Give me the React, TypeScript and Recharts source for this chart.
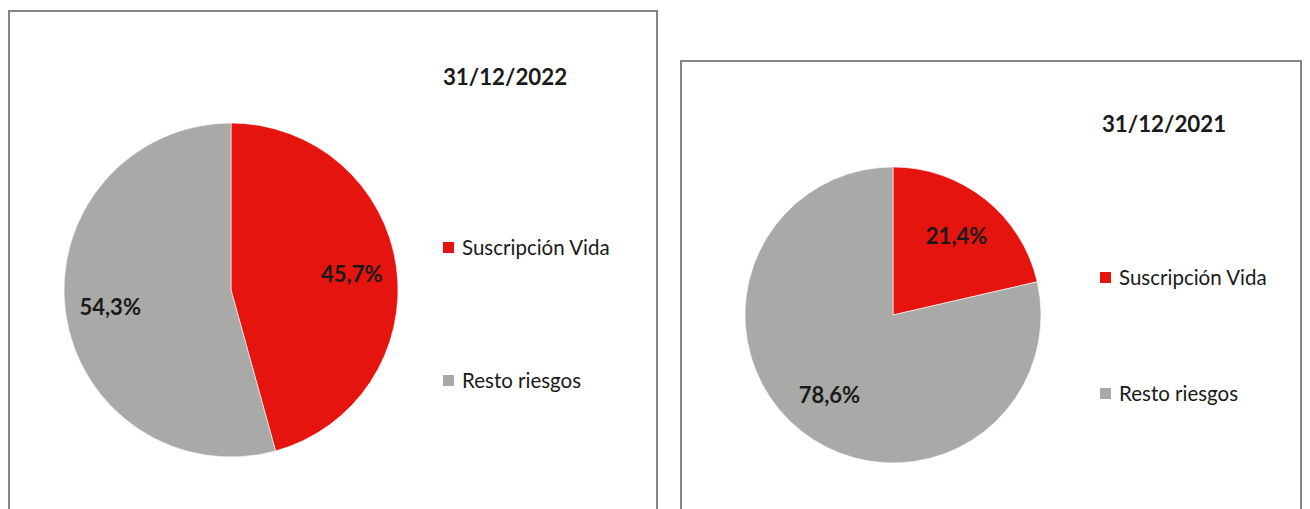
import React from 'react';
import { PieChart, Pie, Cell, Legend } from 'recharts';

// categories and values
const categories = ['Suscripción Vida', 'Resto riesgos'];
const values2022 = [45.7, 54.3];
const values2021 = [21.4, 78.6];
const titles = ['31/12/2022', '31/12/2021'];

const COLORS = ['#e5140f', '#a9a9a7'];
const FONT = 'Lato, "Open Sans", sans-serif';
const RAD = Math.PI / 180;

const fmt = (v: number) => v.toFixed(1).replace('.', ',') + '%';

const makeLabel = (frac: number) => (props: any) => {
    const { cx, cy, midAngle, outerRadius, value } = props;
    const r = outerRadius * frac;
    const x = cx + r * Math.cos(-midAngle * RAD);
    const y = cy + r * Math.sin(-midAngle * RAD);
    return (
        <text x={x} y={y} textAnchor="middle" dominantBaseline="central"
            fill="#1a1a1a" fontFamily={FONT} fontWeight={700} fontSize={22}>
            {fmt(value)}
        </text>
    );
};

const makeLegend = (gap: number) => (props: any) => {
    // keep the legend in the data order, not alphabetical
    const items = [...(props.payload || [])].sort(
        (a: any, b: any) => categories.indexOf(a.value) - categories.indexOf(b.value));
    return (
        <div style={{ fontFamily: FONT }}>
            {items.map((entry: any, i: number) => (
                <div key={i} style={{ display: 'flex', alignItems: 'center', height: 24, marginBottom: i === 0 ? gap : 0 }}>
                    <span style={{ width: 11, height: 11, background: entry.color, display: 'inline-block', marginRight: 8 }} />
                    <span style={{ fontSize: 20.5, color: '#1a1a1a' }}>{entry.value}</span>
                </div>
            ))}
        </div>
    );
};

type PanelProps = {
    values: number[];
    title: string;
    left: number; top: number; width: number; height: number;
    cx: number; cy: number; r: number;
    titleX: number; titleY: number;
    legendX: number; legendY: number; legendGap: number;
    labelFrac: number;
};

function Panel(p: PanelProps) {
    const data = categories.map((name, i) => ({ name, value: p.values[i] }));
    return (
        <div style={{
            position: 'absolute', left: p.left, top: p.top, width: p.width, height: p.height,
            border: '2px solid #858585', boxSizing: 'border-box', background: '#fff',
        }}>
            <div style={{
                position: 'absolute', left: p.titleX - 100, top: p.titleY - 15, width: 200, height: 30,
                lineHeight: '30px', textAlign: 'center', fontFamily: FONT, fontWeight: 700, fontSize: 22.3, color: '#1a1a1a',
            }}>{p.title}</div>
            <PieChart width={p.width - 4} height={p.height - 4} margin={{ top: 0, right: 0, bottom: 0, left: 0 }}>
                <Pie data={data} dataKey="value" nameKey="name" cx={p.cx} cy={p.cy} outerRadius={p.r}
                    startAngle={90} endAngle={-270} stroke="#ffffff" strokeWidth={0.6}
                    label={makeLabel(p.labelFrac)} labelLine={false} isAnimationActive={false}>
                    {data.map((d, i) => <Cell key={d.name} fill={COLORS[i]} />)}
                </Pie>
                <Legend layout="vertical" align="right" verticalAlign="middle"
                    content={makeLegend(p.legendGap)}
                    wrapperStyle={{ left: p.legendX, top: p.legendY, right: 'auto', bottom: 'auto', width: 'auto' }} />
            </PieChart>
        </div>
    );
}

export default function App() {
    return (
        <div style={{ position: 'absolute', left: 0, top: 0, width: 1310, height: 509, overflow: 'hidden', background: '#fff' }}>
            <Panel values={values2022} title={titles[0]}
                left={8} top={10} width={650} height={530}
                cx={221} cy={278} r={167}
                titleX={495} titleY={65}
                legendX={433} legendY={223} legendGap={109}
                labelFrac={0.73} />
            <Panel values={values2021} title={titles[1]}
                left={680} top={60} width={622} height={480}
                cx={211} cy={253} r={148}
                titleX={482} titleY={62}
                legendX={418} legendY={203} legendGap={92}
                labelFrac={0.69} />
        </div>
    );
}
